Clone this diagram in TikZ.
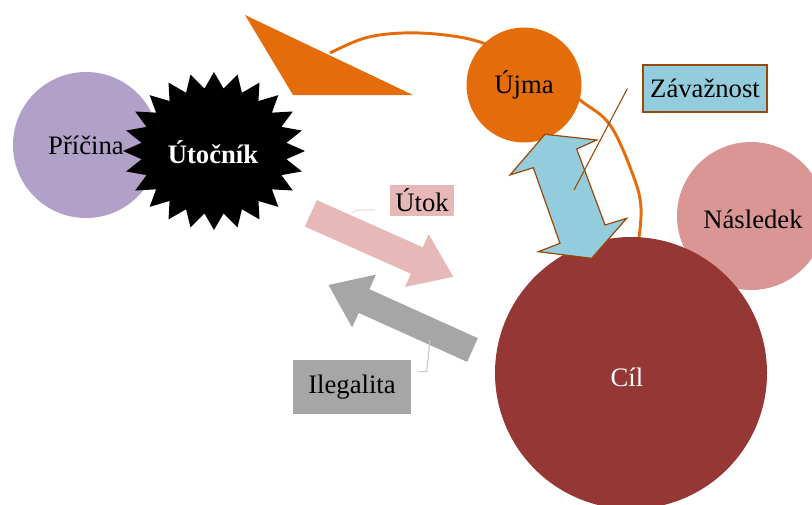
\documentclass[tikz,border=0pt]{standalone}
\usepackage{fontspec}
\setmainfont{Liberation Serif}
\definecolor{cPur}{HTML}{B1A0C7}
\definecolor{cOra}{HTML}{E46C0A}
\definecolor{cBlu}{HTML}{93CDDD}
\definecolor{cBrn}{HTML}{984807}
\definecolor{cPnk}{HTML}{E6B9B8}
\definecolor{cPnkL}{HTML}{F2DCDB}
\definecolor{cGry}{HTML}{A6A6A6}
\definecolor{cGryL}{HTML}{C8C8C8}
\definecolor{cCil}{HTML}{953735}
\definecolor{cNas}{HTML}{D99694}
\begin{document}
\begin{tikzpicture}[x=0.75pt,y=-0.75pt,
  font=\fontsize{20}{24}\selectfont,
  blob/.style={circle, inner sep=0pt, draw=none},
  tagbox/.style={rectangle, inner sep=0pt},
  callout/.style={line width=0.8pt}]
\useasboundingbox (0,0) rectangle (812,504);
\clip (0,0) rectangle (812,504);

% Pricina
\node[blob, fill=cPur, minimum size={146*0.75pt}] (pricina) at (86,145) {Příčina};

% star Utocnik
\fill[black] plot[samples=48, domain=0:47, variable=\k]
  ({214+ifthenelse(mod(round(\k),2)==0,91,73)*cos(90+7.5*\k)},
   {151-ifthenelse(mod(round(\k),2)==0,79,63)*sin(90+7.5*\k)}) -- cycle;
\node[font=\bfseries\fontsize{20}{24}\selectfont, text=white] (utocnik) at (213,152) {Útočník};

% orange triangle
\fill[cOra] (245,15) -- (293,95) -- (413,95) -- cycle;

% orange arc
\draw[cOra, line width=2.2pt] plot[smooth, tension=0.6] coordinates
  {(330,53) (365,38) (403,33) (445,35) (483,43) (535,65) (580,100) (610,125) (633,175) (641,208) (638,245)};

% Ujma
\node[blob, fill=cOra, minimum size={115*0.75pt}] (ujma) at (524,85) {Újma};

% Nasledek
\node[blob, fill=cNas, minimum size={148*0.75pt}] (nasledek) at (751,216) {};
\node (nastext) at (753,219) {Následek};

% Cil
\node[blob, fill=cCil, minimum size={272*0.75pt}] (cil) at (631,373) {};
\node[text=white] (ciltext) at (627,377) {Cíl};

% blue double arrow
\filldraw[fill=cBlu, draw=cBrn, line width=0.9pt, line join=miter]
  (545,134.3) -- (596.7,140) -- (576.7,149) -- (605,225) -- (626.7,218.3)
  -- (591.7,258.3) -- (538.3,251.7) -- (560,243.3) -- (533.3,167.7) -- (510,175) -- cycle;

% Zavaznost
\node[tagbox, draw=cBrn, fill=cBlu, line width=0.9pt,
  minimum width={124*0.75pt}, minimum height={47*0.75pt}] (zav) at (705,88.5) {Závažnost};
\coordinate (zavp) at (574,190);
\draw[cBrn, callout] ([xshift=-11.25pt]zav.west) -- (zavp);

% pink arrow
\begin{scope}[shift={(310.8,213.3)}, rotate=-24]
\fill[cPnk] (0,-14.5) -- (116,-14.5) -- (116,-29) -- (156,0) -- (116,29) -- (116,14.5) -- (0,14.5) -- cycle;
\end{scope}
\node[tagbox, fill=cPnk, minimum width={64*0.75pt}, minimum height={31*0.75pt}] (utok) at (422,200.5) {Útok};
\coordinate (utokp) at (351.7,213.3);
\draw[cPnkL, callout] ([shift={(-15,9.5)}]utok.west) -- ++(-18.3,0) -- (utokp);

% grey arrow
\begin{scope}[shift={(472.5,350)}, rotate=155.7]
\fill[cGry] (0,-13) -- (119,-13) -- (119,-29) -- (158,0) -- (119,29) -- (119,13) -- (0,13) -- cycle;
\end{scope}
\node[tagbox, fill=cGry, minimum width={118*0.75pt}, minimum height={54*0.75pt}] (ileg) at (352,387) {Ilegalita};
\coordinate (ilegp) at (430,340);
\draw[cGryL, callout] ([shift={(7,-15.3)}]ileg.east) -- ++(8.4,0) -- (ilegp);
\end{tikzpicture}
\end{document}
